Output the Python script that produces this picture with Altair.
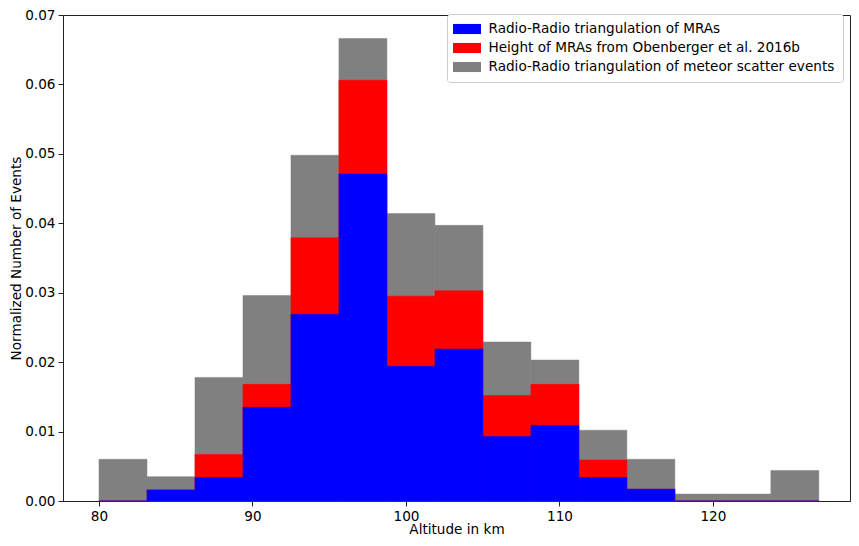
import altair as alt
import pandas as pd

# bin edges (km)
edges = [80.0, 83.127, 86.253, 89.38, 92.507, 95.633, 98.76, 101.887, 105.013,
         108.14, 111.267, 114.393, 117.52, 120.647, 123.773, 126.9]

labels = ["Radio-Radio triangulation of MRAs",
          "Height of MRAs from Obenberger et al. 2016b",
          "Radio-Radio triangulation of meteor scatter events"]
colors = ["#0000ff", "#ff0000", "#808080"]

blue = [0.0, 0.0016, 0.0034, 0.0135, 0.0269, 0.0471, 0.0194, 0.0219, 0.0093,
        0.0109, 0.0034, 0.0017, 0.0, 0.0, 0.0]
red = [0.0, 0.0016, 0.0067, 0.0168, 0.0379, 0.0606, 0.0295, 0.0303, 0.0152,
       0.0168, 0.0059, 0.0017, 0.0, 0.0, 0.0]
gray = [0.0060, 0.0035, 0.0178, 0.0296, 0.0498, 0.0666, 0.0414, 0.0397, 0.0229,
        0.0203, 0.0102, 0.0060, 0.0010, 0.0010, 0.0044]

rows = []
for lab, vals in [(labels[2], gray), (labels[1], red), (labels[0], blue)]:
    for i, v in enumerate(vals):
        rows.append({"series": lab, "x0": edges[i], "x1": edges[i + 1], "v": v})
df = pd.DataFrame(rows)

font = "DejaVu Sans"
fs = 13.6

chart = alt.Chart(df).mark_rect(strokeWidth=0.5).encode(
    x=alt.X("x0:Q", scale=alt.Scale(domain=[77.655, 128.93], nice=False, zero=False),
            axis=alt.Axis(values=[80, 90, 100, 110, 120], title="Altitude in km",
                          grid=False, tickSize=5, labelPadding=3, titlePadding=0)),
    x2="x1:Q",
    y=alt.Y("v:Q", scale=alt.Scale(domain=[0, 0.07], nice=False),
            axis=alt.Axis(values=[0, 0.01, 0.02, 0.03, 0.04, 0.05, 0.06, 0.07],
                          format=".2f", title="Normalized Number of Events",
                          grid=False, tickSize=5, labelPadding=3, titlePadding=1)),
    y2=alt.datum(0),
    color=alt.Color("series:N",
                    scale=alt.Scale(domain=labels, range=colors),
                    legend=alt.Legend(orient="none", legendX=384, legendY=-1, title=None,
                                      symbolType="M-2,-0.72H2V0.72H-2Z", symbolSize=196,
                                      symbolOffset=5,
                                      symbolStrokeWidth=0, symbolOpacity=1,
                                      labelFontSize=fs, labelFont=font, labelColor="black",
                                      labelLimit=500, labelOffset=14.5,
                                      fillColor="white", strokeColor="#cccccc",
                                      cornerRadius=3, padding=8, rowPadding=5)),
    stroke=alt.Stroke("series:N", scale=alt.Scale(domain=labels, range=colors),
                      legend=None),
).properties(
    width=787, height=486,
    autosize=alt.AutoSizeParams(type="none"),
    padding={"left": 55, "top": 7, "right": 1, "bottom": 37},
).configure_view(
    stroke="#222222", strokeWidth=1
).configure_axis(
    labelFont=font, titleFont=font, labelFontSize=fs, titleFontSize=fs,
    titleFontWeight="normal", labelColor="black", titleColor="black",
    domainColor="#222222", tickColor="#222222"
)

chart.save("out.html", embed_options={"renderer": "svg", "actions": False})
